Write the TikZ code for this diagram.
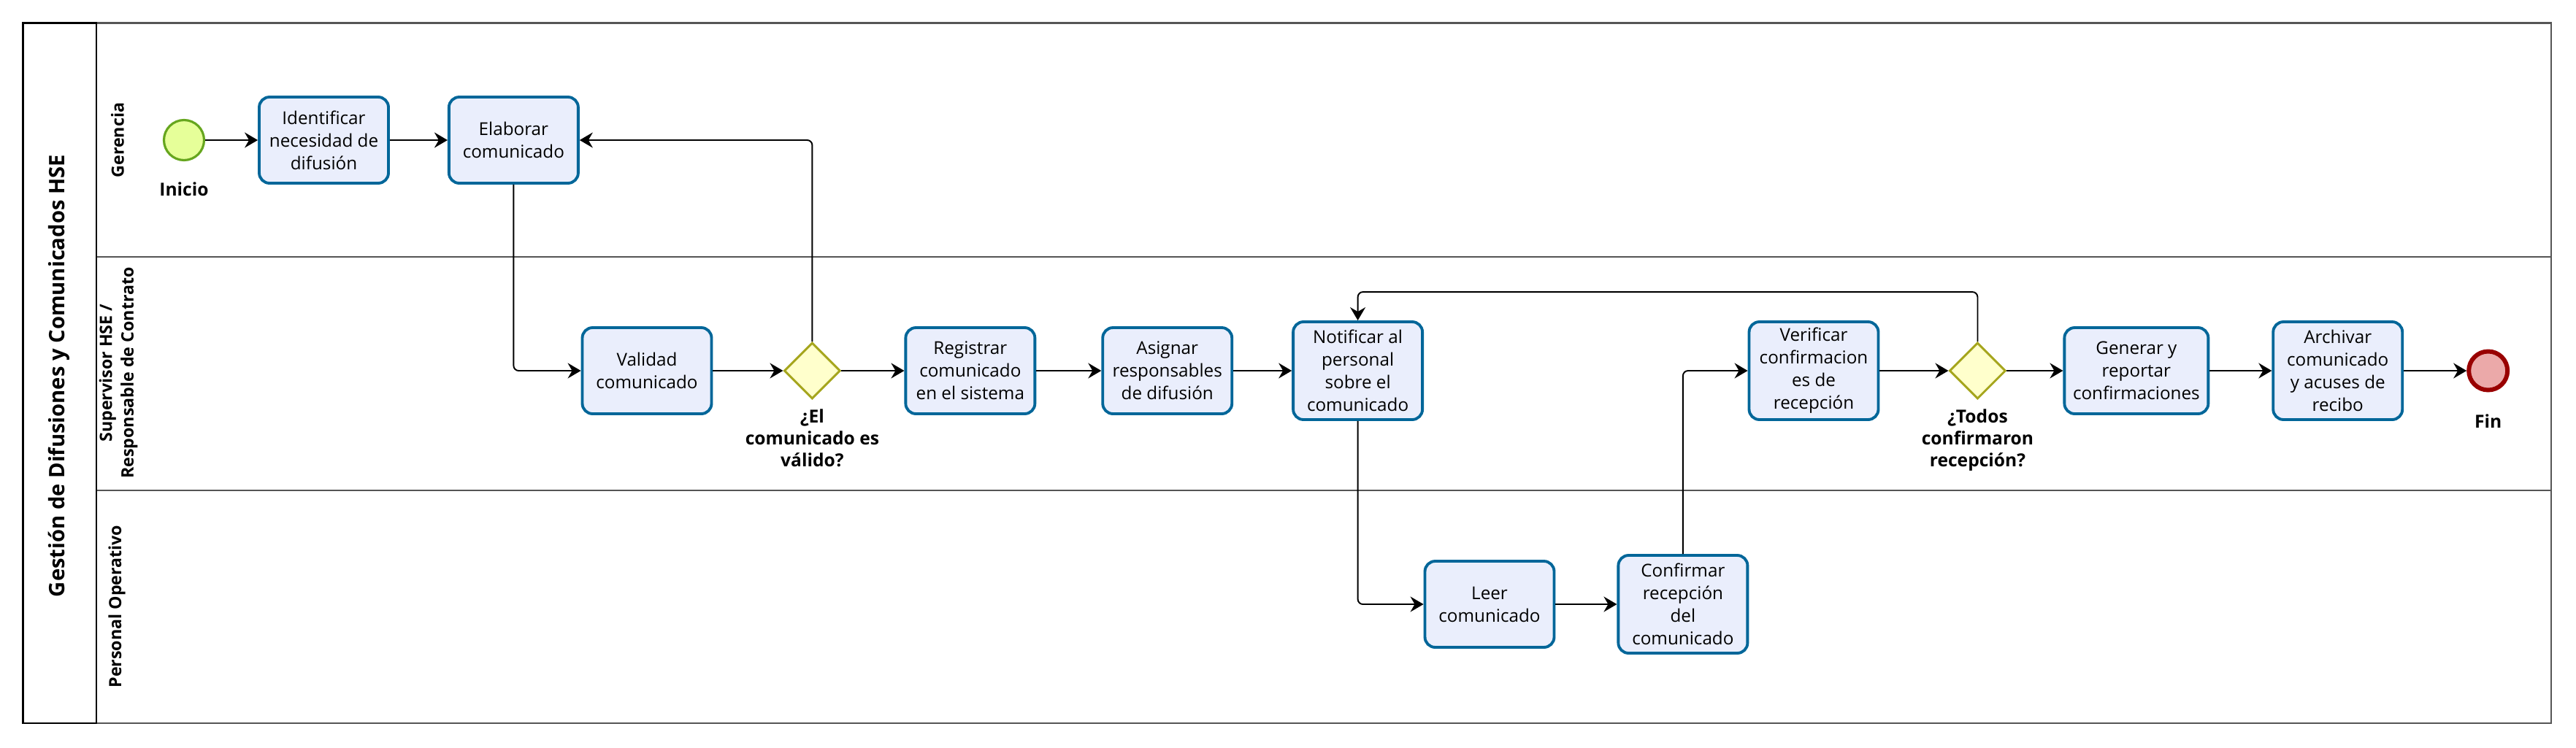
\documentclass[tikz,border=0pt]{standalone}
\usepackage{fontspec}
\setmainfont{Open Sans}
\usepackage{tikz}
\usetikzlibrary{shapes.geometric, arrows.meta, positioning, calc}
\definecolor{cTask}{RGB}{234,238,252}
\definecolor{cTaskLine}{RGB}{0,102,153}
\definecolor{cGate}{RGB}{255,255,204}
\definecolor{cGateLine}{RGB}{166,166,30}
\definecolor{cStart}{RGB}{230,255,153}
\definecolor{cStartLine}{RGB}{102,166,30}
\definecolor{cEnd}{RGB}{235,169,169}
\definecolor{cEndLine}{RGB}{153,0,0}
\definecolor{cLane}{RGB}{85,85,85}
\tikzset{
	task/.style={rectangle, rounded corners=4pt, minimum width=1.77cm, minimum height=1.18cm, text centered, align=center, draw=cTaskLine, line width=1.1pt, fill=cTask, inner sep=1pt},
	tasktall/.style={task, minimum height=1.34cm},
	gateway/.style={diamond, minimum width=0.77cm, minimum height=0.77cm, inner sep=0pt, draw=cGateLine, line width=0.85pt, fill=cGate},
	startev/.style={circle, minimum size=0.55cm, inner sep=0pt, draw=cStartLine, line width=0.9pt, fill=cStart},
	endev/.style={circle, minimum size=0.53cm, inner sep=0pt, draw=cEndLine, line width=1.7pt, fill=cEnd},
	evlabel/.style={font=\fontsize{7}{8.5}\selectfont\bfseries, align=center, inner sep=0pt},
	lanelabel/.style={rotate=90, font=\fontsize{6.6}{8.4}\selectfont\bfseries, align=center},
	flowarrow/.style={-{Stealth[length=1.8mm, width=2.1mm, inset=0.6mm]}, line width=0.55pt, rounded corners=2pt},
}

\begin{document}
\begin{tikzpicture}[font=\fontsize{6.9}{8.8}\selectfont, node distance=0.8cm]
	\useasboundingbox (0,0) rectangle (35.28,-10.24);
	% pool and lanes
	\draw[cLane, line width=0.6pt] (1.32,-0.315) rectangle (34.94,-9.91);
	\draw[cLane, line width=0.6pt] (1.32,-3.517) -- (34.94,-3.517) (1.32,-6.717) -- (34.94,-6.717);
	\draw[line width=0.7pt] (0.315,-0.315) rectangle (1.32,-9.91);
	\node[rotate=90, font=\fontsize{8.3}{10}\selectfont\bfseries] (pool) at (0.81,-5.15) {Gestión de Difusiones y Comunicados HSE};
	\node[lanelabel] (lGer) at (1.61,-1.92) {Gerencia};
	\node[lanelabel] (lSup) at (1.62,-5.11) {Supervisor HSE /\\Responsable de Contrato};
	\node[lanelabel] (lPer) at (1.60,-8.31) {Personal Operativo};

	% Gerencia
	\node[startev] (inicio) at (2.52,-1.92) {};
	\node[evlabel, below=0.28cm of inicio] (inicioLbl) {Inicio};
	\node[task, right=0.72cm of inicio] (ident) {Identificar\\necesidad de\\difusión};
	\node[task, right=0.79cm of ident] (elab) {Elaborar\\comunicado};

	% Supervisor HSE
	\node[task] (valid) at (8.86,-5.08) {Validad\\comunicado};
	\node[gateway, right=0.96cm of valid] (gw1) {};
	\node[evlabel, below=1.2mm of gw1] (gw1Lbl) {¿El\\comunicado es\\válido?};
	\node[task, right=0.86cm of gw1] (regis) {Registrar\\comunicado\\en el sistema};
	\node[task, right=0.89cm of regis] (asig) {Asignar\\responsables\\de difusión};
	\node[tasktall, right=0.80cm of asig] (notif) {Notificar al\\personal\\sobre el\\comunicado};
	\node[tasktall] (verif) at (24.84,-5.08) {Verificar\\confirmacion\\es de\\recepción};
	\node[gateway, right=0.94cm of verif] (gw2) {};
	\node[evlabel, below=1.2mm of gw2] (gw2Lbl) {¿Todos\\confirmaron\\recepción?};
	\node[task, minimum width=1.97cm, right=0.77cm of gw2] (gener) {Generar y\\reportar\\confirmaciones};
	\node[tasktall, right=0.85cm of gener] (archiv) {Archivar\\comunicado\\y acuses de\\recibo};
	\node[endev, right=0.86cm of archiv] (fin) {};
	\node[evlabel, below=0.3cm of fin] (finLbl) {Fin};

	% Personal Operativo
	\node[task] (leer) at (20.40,-8.28) {Leer\\comunicado};
	\node[tasktall, right=0.84cm of leer] (confir) {Confirmar\\recepción\\del\\comunicado};

	\draw[flowarrow] (inicio) -- (ident);
	\draw[flowarrow] (ident) -- (elab);
	\draw[flowarrow] (elab.south) |- (valid.west);
	\draw[flowarrow] (valid) -- (gw1);
	\draw[flowarrow] (gw1.north) |- (elab.east);
	\draw[flowarrow] (gw1) -- (regis);
	\draw[flowarrow] (regis) -- (asig);
	\draw[flowarrow] (asig) -- (notif);
	\draw[flowarrow] (notif.south) |- (leer.west);
	\draw[flowarrow] (leer) -- (confir);
	\draw[flowarrow] (confir.north) |- (verif.west);
	\draw[flowarrow] (verif) -- (gw2);
	\draw[flowarrow] (gw2.north) |- ([yshift=3.9mm]notif.north) -- (notif.north);
	\draw[flowarrow] (gw2) -- (gener);
	\draw[flowarrow] (gener) -- (archiv);
	\draw[flowarrow] (archiv) -- (fin);
\end{tikzpicture}
\end{document}
